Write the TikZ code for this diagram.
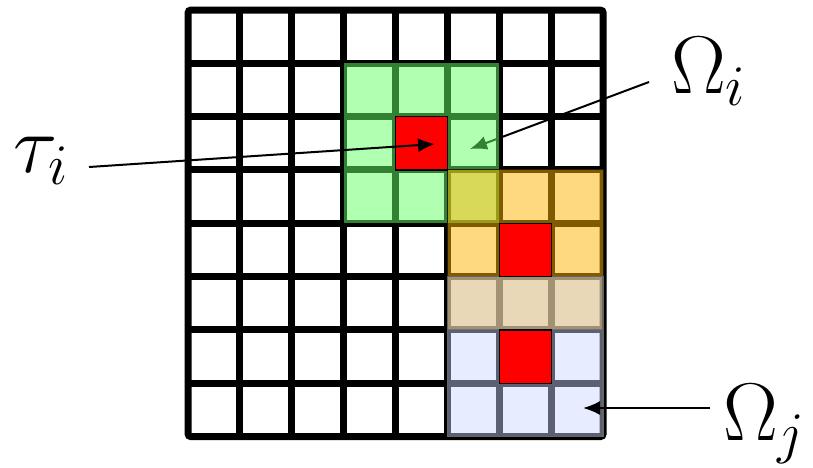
\RequirePackage{fix-cm}
\documentclass[tikz,border=0pt]{standalone}
\usetikzlibrary{arrows.meta}
\definecolor{omegaGreen}{RGB}{100,255,100}
\definecolor{omegaOrange}{RGB}{255,180,0}
\definecolor{omegaBlue}{RGB}{205,215,255}
\definecolor{tauRed}{RGB}{255,0,0}

\begin{document}
\begin{tikzpicture}[x=1pt, y=-1pt,
  gridline/.style={line width=7pt, black},
  cellred/.style={draw=black, line width=1.5pt, fill=tauRed},
  pointer/.style={line width=2pt, -{Latex[length=17pt,width=14pt]}},
  biglabel/.style={inner sep=0pt, anchor=base west, font=\fontsize{82}{90}\selectfont},
]
  \fill[white] (0,0) rectangle (813,467);
  \useasboundingbox (0,0) rectangle (813,467);

  % labels
  \node[biglabel] (tau) at (13,172) {$\tau_i$};
  \node[biglabel] (omi) at (671,93) {$\Omega_i$};
  \node[biglabel] (omj) at (723,440) {$\Omega_j$};

  % connector ends
  \coordinate (tauTail) at (89,167);
  \coordinate (tauTip) at (435,144);
  \coordinate (omiTail) at (649,82);
  \coordinate (omiTip) at (470,149);
  \coordinate (omjTail) at (710,408);
  \coordinate (omjTip) at (583,408);

  \begin{scope}[shift={(188,10)}, x=51.9pt, y=-53.33pt]
    % 8x8 grid
    \foreach \k in {1,...,7} {
      \draw[gridline] (\k,0) -- (\k,8);
      \draw[gridline] (0,\k) -- (8,\k);
    }
    \draw[gridline, rounded corners=3pt] (0,0) rectangle (8,8);

    \draw[pointer] (omiTail) -- (omiTip);

    % neighbourhoods
    \fill[omegaGreen, fill opacity=0.5] (3,1) rectangle (6,4);
    \filldraw[fill=omegaOrange, fill opacity=0.5, draw=black!80!brown, line width=1pt] (5,3) rectangle (8,6);
    \filldraw[fill=omegaBlue, fill opacity=0.45, draw=black!60, line width=1.5pt] (5,5) rectangle (8,8);

    % elements
    \draw[cellred] (4,2) rectangle (5,3);
    \draw[cellred] (6,4) rectangle (7,5);
    \draw[cellred] (6,6) rectangle (7,7);
  \end{scope}

  \draw[pointer] (tauTail) -- (tauTip);
  \draw[pointer] (omjTail) -- (omjTip);
\end{tikzpicture}
\end{document}
